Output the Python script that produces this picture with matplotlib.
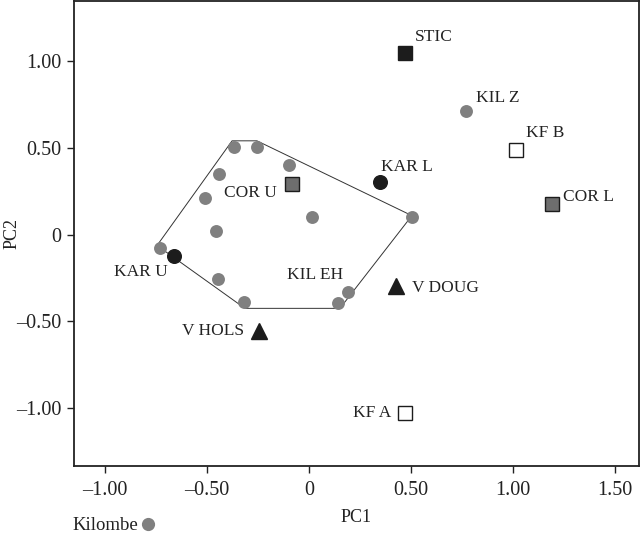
import matplotlib.pyplot as plt
from matplotlib.lines import Line2D

plt.rcParams['font.family'] = ['Liberation Serif', 'DejaVu Serif']

# Kilombe samples (grey circles)
kil_x = [-0.368, -0.256, -0.100, -0.443, -0.511, -0.456, -0.730, 0.015, 0.503,
         -0.448, -0.317, 0.193, 0.142, 0.770]
kil_y = [0.506, 0.506, 0.400, 0.349, 0.211, 0.019, -0.077, 0.100, 0.103,
         -0.255, -0.391, -0.331, -0.395, 0.709]

# outline around the Kilombe cluster
hull_x = [-0.745, -0.377, -0.255, 0.505, 0.152, -0.314, -0.745]
hull_y = [-0.063, 0.540, 0.540, 0.109, -0.425, -0.425, -0.063]

# labelled sites: name, x, y, marker, face, edge, text offset (px), ha
sites = [
    ('STIC', 0.469, 1.048, 's', '#1c1c1c', '#1c1c1c', (10, 16), 'left'),
    ('KIL Z', 0.770, 0.709, None, None, None, (10, 13), 'left'),
    ('KF B', 1.016, 0.489, 's', 'white', '#1c1c1c', (10, 17), 'left'),
    ('KAR L', 0.350, 0.301, 'o', '#1c1c1c', '#1c1c1c', (1, 15), 'left'),
    ('COR L', 1.191, 0.176, 's', '#6e6e6e', '#1c1c1c', (11, 7), 'left'),
    ('COR U', -0.083, 0.289, 's', '#6e6e6e', '#1c1c1c', (-15, -9), 'right'),
    ('KAR U', -0.660, -0.126, 'o', '#1c1c1c', '#1c1c1c', (-7, -16), 'right'),
    ('KIL EH', 0.193, -0.331, None, None, None, (-5, 17), 'right'),
    ('V HOLS', -0.244, -0.557, '^', '#1c1c1c', '#1c1c1c', (-15, 0), 'right'),
    ('V DOUG', 0.426, -0.299, '^', '#1c1c1c', '#1c1c1c', (16, -2), 'left'),
    ('KF A', 0.471, -1.025, 's', 'white', '#1c1c1c', (-14, 0), 'right'),
]

xticks = [-1.0, -0.5, 0, 0.5, 1.0, 1.5]
xlabels = ['\u20131.00', '\u20130.50', '0', '0.50', '1.00', '1.50']
yticks = [-1.0, -0.5, 0, 0.5, 1.0]
ylabels = ['\u20131.00', '\u20130.50', '0', '0.50', '1.00']

fig = plt.figure(figsize=(6.44, 5.35), dpi=100)
ax = fig.add_axes([0.115, 0.129, 0.877, 0.869])

grey = '#808080'
ax.plot(hull_x, hull_y, color='#333333', lw=0.7, zorder=1)
ax.plot(kil_x, kil_y, 'o', color=grey, ms=9.3, mec='none', zorder=2)

for name, x, y, m, fc, ec, off, ha in sites:
    if m is not None:
        ms = 12 if m == '^' else 9.8
        ax.plot(x, y, m, ms=ms, mfc=fc, mec=ec, mew=1.0, zorder=3)
    ax.annotate(name, (x, y), xytext=off, textcoords='offset pixels',
                ha=ha, va='center', fontsize=12.5, color='#222222')

ax.set_xlim(-1.152, 1.618)
ax.set_ylim(-1.333, 1.345)
ax.set_xticks(xticks, xlabels)
ax.set_yticks(yticks, ylabels)
ax.tick_params(direction='out', length=5, width=1.0, labelsize=14.5,
               colors='#222222', pad=4)
ax.tick_params(axis='x', pad=6)
for sp in ax.spines.values():
    sp.set_linewidth(1.3)
    sp.set_color('#222222')

ax.set_xlabel('PC1', fontsize=13, color='#222222', labelpad=6)
ax.set_ylabel('PC2', fontsize=13, color='#222222')
ax.yaxis.set_label_coords(-0.095, 0.5)

handle = Line2D([], [], marker='o', ls='none', color=grey, ms=9.5, mec='none')
fig.legend([handle], ['Kilombe'], loc='center left', bbox_to_anchor=(0.112, 0.017),
           frameon=False, markerfirst=False, fontsize=13.5, handlelength=0.6,
           handletextpad=0.25, borderaxespad=0, borderpad=0, labelcolor='#222222')

fig.savefig('out.png', dpi=100)
